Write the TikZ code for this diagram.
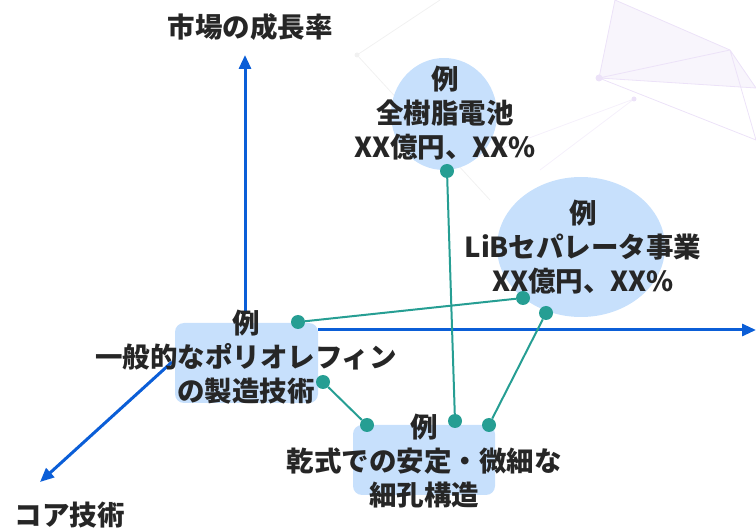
\documentclass[tikz,border=0pt]{standalone}
\usepackage{fontspec}
\setmainfont{Noto Sans CJK JP}
\usetikzlibrary{arrows.meta,shapes.geometric}
\definecolor{axisblue}{HTML}{0B5ED7}
\definecolor{boxblue}{HTML}{C7E0FC}
\definecolor{linkteal}{HTML}{269E93}
\definecolor{txt}{HTML}{262626}
\definecolor{bgnet}{HTML}{ECE2F8}
\definecolor{bggray}{HTML}{F1F1F1}
\tikzset{
  axis/.style={draw=axisblue, line width=3pt, -{Triangle[length=14pt,width=12pt]}},
  card/.style={rectangle, rounded corners=9pt, fill=boxblue, inner sep=0pt},
  bubble/.style={ellipse, fill=boxblue, inner sep=0pt},
  lbl/.style={text=txt, font=\bfseries\fontsize{27.5}{34}\selectfont, align=center, inner sep=0pt},
  dot/.style={circle, fill=linkteal, minimum size=14pt, inner sep=0pt},
  link/.style={draw=linkteal, line width=2pt},
  net/.style={draw=bgnet, line width=0.8pt},
}
\begin{document}
\begin{tikzpicture}[x=1pt,y=-1pt]
\useasboundingbox (0,0) rectangle (756,529);
% faint background network
\coordinate (n1) at (599,78);
\coordinate (n2) at (615,0);
\coordinate (n3) at (730,50);
\coordinate (n4) at (756,88);
\coordinate (n5) at (634,99);
\coordinate (n6) at (756,140);
\fill[bgnet!35] (n1) -- (n2) -- (n3) -- (n4) -- cycle;
\draw[net] (n1) -- (n2) (n1) -- (n3) (n1) -- (n4) (n1) -- (n6) (n2) -- (n3) -- (n4) (n3) -- (n6);
\draw[net, draw=bgnet!50] (n5) -- (470,160) (n5) -- (540,170);
\fill[bgnet] (n1) circle (3.5pt) (n5) circle (2.5pt);
\coordinate (g1) at (440,0);
\coordinate (g2) at (357,55);
\coordinate (g3) at (490,200);
\draw[draw=bggray, line width=0.8pt] (g1) -- (g2) -- (g3);
\fill[bggray] (g2) circle (2.5pt);
% shapes
\node[card, minimum width=143pt, minimum height=80pt] (box1) at (246.5,363) {};
\node[card, minimum width=142pt, minimum height=70pt] (box2) at (424,460) {};
\node[bubble, minimum width=106pt, minimum height=112pt] (ell1) at (444,114) {};
\node[bubble, minimum width=168pt, minimum height=140pt] (ell2) at (581,247) {};
% axes
\coordinate (vtop) at (245,55);
\coordinate (vbot) at (245,312);
\coordinate (hend) at (756,330);
\coordinate (hstart) at (318,330);
\coordinate (dstart) at (172,362);
\coordinate (dend) at (40,482);
\draw[axis] (vbot) -- (vtop);
\draw[axis] (hstart) -- (hend);
\draw[axis] (dstart) -- (dend);
\node[lbl] (ytitle) at (250,27) {市場の成長率};
\node[lbl] (xtitle) at (70,515) {コア技術};
% texts
\node[lbl] (t1) at (246,357) {例\\一般的なポリオレフィン\\の製造技術};
\node[lbl] (t2) at (424,461) {例\\乾式での安定・微細な\\細孔構造};
\node[lbl] (t3) at (445,113) {例\\全樹脂電池\\XX億円、XX\%};
\node[lbl] (t4) at (583,247) {例\\LiBセパレータ事業\\XX億円、XX\%};
% connectors
\node[dot] (d1) at (298,322) {};
\node[dot] (d2) at (523,298) {};
\node[dot] (d3) at (546,313) {};
\node[dot] (d4) at (447,171) {};
\node[dot] (d5) at (323,382) {};
\node[dot] (d6) at (367,425) {};
\node[dot] (d7) at (455,421) {};
\node[dot] (d8) at (489,425) {};
\draw[link] (d1) -- (d2);
\draw[link] (d4) -- (d7);
\draw[link] (d3) -- (d8);
\draw[link] (d5) -- (d6);
\end{tikzpicture}
\end{document}
